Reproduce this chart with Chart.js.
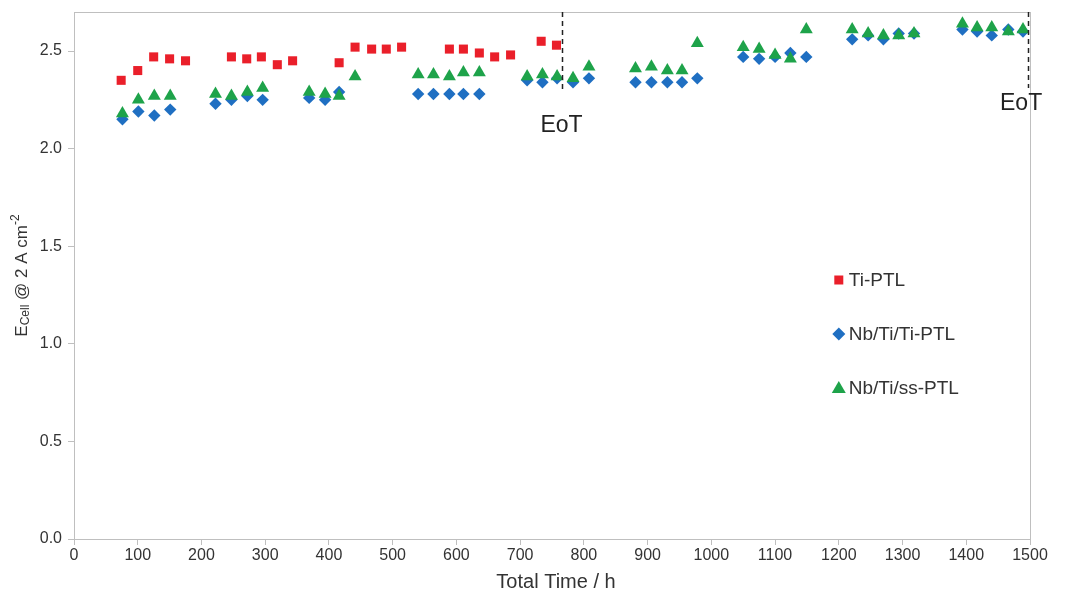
<!DOCTYPE html>
<html>
<head>
<meta charset="utf-8">
<script src="https://cdn.jsdelivr.net/npm/chart.js"></script>
<style>
  html, body { margin: 0; padding: 0; background: #fff; }
  #wrap { width: 1067px; height: 595px; position: relative; }
</style>
</head>
<body>
<div id="wrap"><canvas id="cellChart"></canvas></div>
<script>
// Datos (tiempo en h, voltaje en V)
const tiTime = [74, 100, 125, 150, 175, 247, 271, 294, 319, 343, 416, 441, 467, 490, 514, 589, 611, 636, 660, 685, 733, 757];
const tiVolt = [2.35, 2.40, 2.47, 2.46, 2.45, 2.47, 2.46, 2.47, 2.43, 2.45, 2.44, 2.52, 2.51, 2.51, 2.52, 2.51, 2.51, 2.49, 2.47, 2.48, 2.55, 2.53];

const nbTiTime = [76, 101, 126, 151, 222, 247, 272, 296, 369, 394, 416, 540, 564, 589, 611, 636, 711, 735, 758, 783, 808,
  881, 906, 931, 954, 978, 1050, 1075, 1100, 1124, 1149, 1221, 1246, 1270, 1294, 1318, 1394, 1417, 1440, 1466, 1489];
const nbTiVolt = [2.15, 2.19, 2.17, 2.20, 2.23, 2.25, 2.27, 2.25, 2.26, 2.25, 2.29, 2.28, 2.28, 2.28, 2.28, 2.28, 2.35, 2.34, 2.36, 2.34, 2.36,
  2.34, 2.34, 2.34, 2.34, 2.36, 2.47, 2.46, 2.47, 2.49, 2.47, 2.56, 2.58, 2.56, 2.59, 2.59, 2.61, 2.60, 2.58, 2.61, 2.60];

const ssTime = [76, 101, 126, 151, 222, 247, 272, 296, 369, 394, 416, 441, 540, 564, 589, 611, 636, 711, 735, 758, 783, 808,
  881, 906, 931, 954, 978, 1050, 1075, 1100, 1124, 1149, 1221, 1246, 1270, 1294, 1318, 1394, 1417, 1440, 1466, 1489];
const ssVolt = [2.18, 2.25, 2.27, 2.27, 2.28, 2.27, 2.29, 2.31, 2.29, 2.28, 2.27, 2.37, 2.38, 2.38, 2.37, 2.39, 2.39, 2.37, 2.38, 2.37, 2.36, 2.42,
  2.41, 2.42, 2.40, 2.40, 2.54, 2.52, 2.51, 2.48, 2.46, 2.61, 2.61, 2.59, 2.58, 2.58, 2.59, 2.64, 2.62, 2.62, 2.60, 2.61];

// Fin de test (EoT)
const eotTime = [765, 1497];
const eotTop = [2.29, 2.31];
const eotText = [2.12, 2.23];

const seriesNames = ['Ti-PTL', 'Nb/Ti/Ti-PTL', 'Nb/Ti/ss-PTL'];
const seriesColors = ['#ea1f2a', '#1f6fc2', '#1ea34a'];

const toPoints = (xs, ys) => xs.map((x, i) => ({ x: x, y: ys[i] }));
const txtColor = '#333333';
const axisColor = '#bfbfbf';

// Plugin para marco, EoT, títulos y leyenda
const decor = {
  id: 'decor',
  beforeDatasetsDraw(chart) {
    const { ctx, chartArea: a } = chart;
    ctx.save();
    ctx.strokeStyle = axisColor;
    ctx.lineWidth = 1;
    ctx.strokeRect(a.left + 0.5, a.top + 0.5, a.right - a.left, a.bottom - a.top);
    ctx.restore();
  },
  afterDatasetsDraw(chart) {
    const { ctx, chartArea: a, scales } = chart;
    ctx.save();
    // líneas EoT
    ctx.strokeStyle = '#222';
    ctx.lineWidth = 1.5;
    ctx.setLineDash([5, 4]);
    eotTime.forEach((t, i) => {
      const x = Math.round(scales.x.getPixelForValue(t)) + 0.5;
      ctx.beginPath();
      ctx.moveTo(x, a.top);
      ctx.lineTo(x, scales.y.getPixelForValue(eotTop[i]));
      ctx.stroke();
    });
    ctx.setLineDash([]);
    ctx.fillStyle = '#222';
    ctx.font = '23px "Liberation Sans", Arial, sans-serif';
    ctx.textBaseline = 'middle';
    eotTime.forEach((t, i) => {
      let x = scales.x.getPixelForValue(t);
      ctx.textAlign = 'center';
      if (i === eotTime.length - 1) { x = x - 7; }
      ctx.fillText('EoT', x, scales.y.getPixelForValue(eotText[i]));
    });

    // leyenda
    const lx = a.left + (a.right - a.left) * 0.800;
    const ly = [280, 334, 388];
    ctx.font = '19px "Liberation Sans", Arial, sans-serif';
    ctx.textAlign = 'left';
    seriesNames.forEach((name, i) => {
      const y = ly[i];
      ctx.fillStyle = seriesColors[i];
      ctx.beginPath();
      if (i === 0) {
        ctx.rect(lx - 4.5, y - 4.5, 9, 9);
      } else if (i === 1) {
        ctx.moveTo(lx - 6.5, y); ctx.lineTo(lx, y - 6.5); ctx.lineTo(lx + 6.5, y); ctx.lineTo(lx, y + 6.5);
      } else {
        ctx.moveTo(lx, y - 7); ctx.lineTo(lx + 7, y + 5); ctx.lineTo(lx - 7, y + 5);
      }
      ctx.closePath();
      ctx.fill();
      ctx.fillStyle = txtColor;
      ctx.fillText(name, lx + 10, y + 1);
    });

    // título eje x
    ctx.font = '20px "Liberation Sans", Arial, sans-serif';
    ctx.textAlign = 'center';
    ctx.fillText('Total Time / h', (a.left + a.right) / 2 + 4, 582);

    // título eje y con subíndice y superíndice
    const base = '17px "Liberation Sans", Arial, sans-serif';
    const small = '12px "Liberation Sans", Arial, sans-serif';
    const parts = [
      { t: 'E', f: base, dy: 0 },
      { t: 'Cell', f: small, dy: 4 },
      { t: ' @ 2 A cm', f: base, dy: 0 },
      { t: '-2', f: small, dy: -6 }
    ];
    let total = 0;
    parts.forEach(p => { ctx.font = p.f; p.w = ctx.measureText(p.t).width; total += p.w; });
    ctx.translate(22, (a.top + a.bottom) / 2);
    ctx.rotate(-Math.PI / 2);
    ctx.textAlign = 'left';
    ctx.textBaseline = 'middle';
    let px = -total / 2;
    parts.forEach(p => {
      ctx.font = p.f;
      ctx.fillText(p.t, px, p.dy);
      px += p.w;
    });
    ctx.restore();
  }
};

const ctx = document.getElementById('cellChart').getContext('2d');
const cellChart = new Chart(ctx, {
  type: 'scatter',
  data: {
    datasets: [
      {
        label: seriesNames[0],
        data: toPoints(tiTime, tiVolt),
        pointStyle: 'rect',
        pointRadius: 6.4,
        backgroundColor: seriesColors[0],
        borderWidth: 0,
        order: 2
      },
      {
        label: seriesNames[1],
        data: toPoints(nbTiTime, nbTiVolt),
        pointStyle: 'rectRot',
        pointRadius: 6.2,
        backgroundColor: seriesColors[1],
        borderWidth: 0,
        order: 1
      },
      {
        label: seriesNames[2],
        data: toPoints(ssTime, ssVolt),
        pointStyle: 'triangle',
        pointRadius: 7.5,
        backgroundColor: seriesColors[2],
        borderWidth: 0,
        order: 0
      }
    ]
  },
  options: {
    responsive: true,
    maintainAspectRatio: false,
    animation: false,
    layout: { padding: { top: 12, right: 37, left: 0, bottom: 0 } },
    plugins: {
      legend: { display: false },
      tooltip: { enabled: false }
    },
    scales: {
      x: {
        type: 'linear',
        min: 0,
        max: 1500,
        ticks: {
          stepSize: 100,
          color: txtColor,
          font: { size: 16, family: '"Liberation Sans", Arial' },
          padding: 1,
          maxRotation: 0,
          callback: (v) => String(v)
        },
        grid: { drawOnChartArea: false, tickLength: 6, color: axisColor },
        border: { color: axisColor },
        afterFit: (s) => { s.height = 56; s.paddingRight = 0; s.paddingLeft = 0; }
      },
      y: {
        min: 0,
        max: 2.7,
        ticks: {
          stepSize: 0.5,
          color: txtColor,
          font: { size: 16, family: '"Liberation Sans", Arial' },
          padding: 6,
          callback: (v) => v.toFixed(1)
        },
        afterBuildTicks: (s) => { s.ticks = s.ticks.filter(t => Math.abs(t.value * 2 - Math.round(t.value * 2)) < 1e-6); },
        grid: { drawOnChartArea: false, tickLength: 6, color: axisColor },
        border: { color: axisColor },
        afterFit: (s) => { s.width = 74; s.paddingTop = 0; s.paddingBottom = 0; }
      }
    }
  },
  plugins: [decor]
});
</script>
</body>
</html>
